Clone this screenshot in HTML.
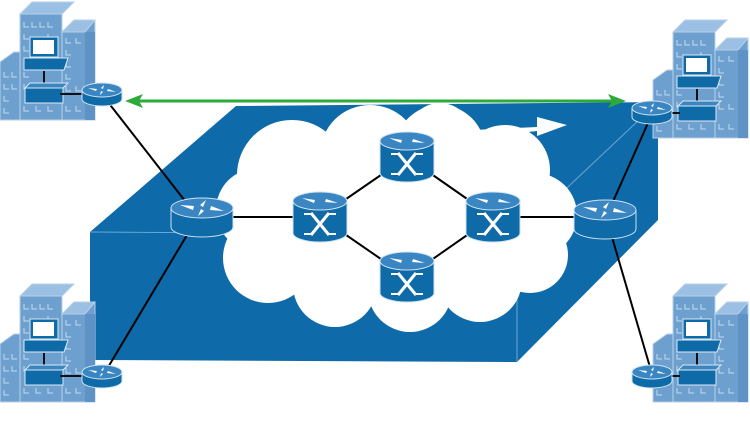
<!DOCTYPE html>
<html><head><meta charset="utf-8"><style>
html,body{margin:0;padding:0;background:#fff;width:750px;height:422px;overflow:hidden}
</style></head><body>
<svg width="750" height="422" viewBox="0 0 750 422" xmlns="http://www.w3.org/2000/svg">
<defs>
  <g id="bld">
    <polygon points="0,62 14,52 22,52 22,120 0,120" fill="#6d9fcf" stroke="#b6d1ea" stroke-width="1"/>
    <polygon points="20,14 32,2 74,2 62,14" fill="#9cc0e3" stroke="#b6d1ea"/>
    <rect x="20" y="14" width="42" height="106" fill="#6d9fcf" stroke="#b6d1ea"/>
    <polygon points="62,32 74,20 95,20 95,120 62,120" fill="#6d9fcf" stroke="#b6d1ea"/>
    <polygon points="62,32 74,20 95,20 85,32" fill="#9cc0e3" stroke="#b6d1ea"/>
    <rect x="85" y="32" width="10" height="88" fill="#5f93c6"/>
    <g stroke="#c4dbef" stroke-width="1" fill="none">
      <path d="M24,22v5h5M32,22v5h5M40,22v5h5M48,22v5h5"/>
      <path d="M24,34v5h5M48,34v5h5M24,46v5h5M24,58v5h5M24,72v5h5M24,84v5h5M24,106v5h5M48,106v5h5M36,106v5h5"/>
      <path d="M66,38v5h5M66,50v5h5M66,62v5h5M66,74v5h5M66,86v5h5M66,106v5h5M76,38v5h5M76,106v5h5M76,86v5h5"/>
      <path d="M4,72v5h5M4,84v5h5M4,96v5h5M4,108v5h5M12,72v5h5M12,84v5h5"/>
    </g>
    <rect x="30" y="37" width="28" height="20" fill="#0f6aa8" stroke="#dbe9f5"/>
    <rect x="33" y="40" width="21" height="14" fill="#fff"/>
    <polygon points="24,58 68,58 64,70 24,70" fill="#0f6aa8" stroke="#dbe9f5"/>
    <line x1="44" y1="71" x2="44" y2="84" stroke="#111" stroke-width="2"/>
    <polygon points="25,88 30,83 68,83 63,88" fill="#3b86c0" stroke="#dbe9f5"/>
    <rect x="25" y="88" width="38" height="15" fill="#0f6aa8" stroke="#dbe9f5"/>
  </g>
  <g id="rtr">
    <path d="M-31,0 v19 a31,10 0 0 0 62,0 v-19" fill="#0f6aa8" stroke="#cfe2f2" stroke-width="1"/>
    <ellipse cx="0" cy="0" rx="31" ry="10" fill="#3a86c2" stroke="#cfe2f2" stroke-width="1"/>
    <g fill="#fff">
      <polygon points="-22,-3 -8,-2 -9,2"/>
      <polygon points="22,3 8,2 9,-2"/>
      <polygon points="-4,8 -1,1 2,3"/>
      <polygon points="4,-8 1,-1 -2,-3"/>
    </g>
  </g>
  <g id="srtr">
    <path d="M-20,0 v9 a20,7 0 0 0 40,0 v-9" fill="#0f6aa8" stroke="#cfe2f2"/>
    <ellipse cx="0" cy="0" rx="20" ry="7" fill="#3a86c2" stroke="#cfe2f2"/>
    <g fill="#fff">
      <polygon points="-14,-2 -5,-1 -6,1"/>
      <polygon points="14,2 5,1 6,-1"/>
      <polygon points="-2,5 -1,1 1,2"/>
      <polygon points="2,-5 1,-1 -1,-2"/>
    </g>
  </g>
  <g id="sw">
    <path d="M-27,-16 v32 a27,9 0 0 0 54,0 v-32" fill="#0f6aa8" stroke="#cfe2f2"/>
    <ellipse cx="0" cy="-16" rx="27" ry="9" fill="#3a86c2" stroke="#cfe2f2"/>
    <g fill="#fff">
      <polygon points="-18,-19 -5,-17 -6,-14"/>
      <polygon points="18,-14 5,-15 6,-18"/>
    </g>
    <g stroke="#fff" stroke-width="3" fill="none">
      <path d="M-9,-4 L9,18 M9,-4 L-9,18"/>
      <path d="M-16,-3 h7 M16,-3 h-7 M-16,17 h7 M16,17 h-7" stroke-width="2"/>
    </g>
  </g>
</defs>

<!-- blue box -->
<polygon points="90,232 236,106 658,102 658,220 517,362 90,360" fill="#0e6aa8"/>
<polyline points="90,232 517,235 658,102" fill="none" stroke="#6aa6d8" stroke-width="1"/>
<line x1="517" y1="235" x2="517" y2="362" stroke="#6aa6d8" stroke-width="1"/>
<!-- white arrow -->
<polygon points="473,130 537,127 537,117 567,125 537,136 537,131 474,138" fill="#fff"/>

<!-- cloud -->
<g fill="#fff">
  <ellipse cx="395" cy="220" rx="165" ry="85"/>
  <circle cx="292" cy="175" r="55"/>
  <circle cx="370" cy="155" r="50"/>
  <circle cx="440" cy="150" r="45"/>
  <circle cx="440" cy="135" r="32"/>
  <circle cx="505" cy="170" r="45"/>
  <circle cx="535" cy="215" r="42"/>
  <circle cx="530" cy="255" r="38"/>
  <circle cx="480" cy="280" r="42"/>
  <circle cx="410" cy="290" r="42"/>
  <circle cx="335" cy="285" r="42"/>
  <circle cx="268" cy="258" r="45"/>
  <circle cx="258" cy="210" r="42"/>
</g>
<path d="M218,203 C225,192 238,186 248,182 L244,200 Z" fill="#fff"/>

<!-- links -->
<g stroke="#000" stroke-width="2" fill="none">
  <line x1="104" y1="97" x2="196" y2="215"/>
  <line x1="104" y1="374" x2="196" y2="220"/>
  <line x1="652" y1="114" x2="607" y2="215"/>
  <line x1="652" y1="374" x2="607" y2="220"/>
  <line x1="200" y1="217" x2="320" y2="217"/>
  <line x1="320" y1="217" x2="407" y2="157"/>
  <line x1="320" y1="217" x2="407" y2="277"/>
  <line x1="407" y1="157" x2="493" y2="217"/>
  <line x1="407" y1="277" x2="493" y2="217"/>
  <line x1="493" y1="217" x2="605" y2="217"/>
</g>

<!-- buildings -->
<use href="#bld" x="0" y="0"/>
<use href="#bld" x="653" y="18"/>
<use href="#bld" x="0" y="282"/>
<use href="#bld" x="653" y="282"/>
<line x1="60" y1="94" x2="84" y2="94" stroke="#111" stroke-width="2"/>
<line x1="668" y1="113" x2="680" y2="113" stroke="#111" stroke-width="2"/>
<line x1="60" y1="376" x2="84" y2="376" stroke="#111" stroke-width="2"/>
<line x1="668" y1="376" x2="680" y2="376" stroke="#111" stroke-width="2"/>

<!-- routers/switches -->
<use href="#srtr" x="102" y="90"/>
<use href="#srtr" x="652" y="108"/>
<use href="#srtr" x="102" y="372"/>
<use href="#srtr" x="652" y="372"/>
<use href="#rtr" x="202" y="208"/>
<use href="#rtr" x="605" y="210"/>
<use href="#sw" x="320" y="217"/>
<use href="#sw" x="407" y="157"/>
<use href="#sw" x="407" y="277"/>
<use href="#sw" x="493" y="217"/>

<!-- green arrow -->
<line x1="135" y1="101" x2="615" y2="101" stroke="#2eaa3a" stroke-width="3"/>
<polygon points="125,101 143,94 139,101 143,108" fill="#2eaa3a"/>
<polygon points="626,101 608,94 612,101 608,108" fill="#2eaa3a"/>
</svg>
</body></html>
